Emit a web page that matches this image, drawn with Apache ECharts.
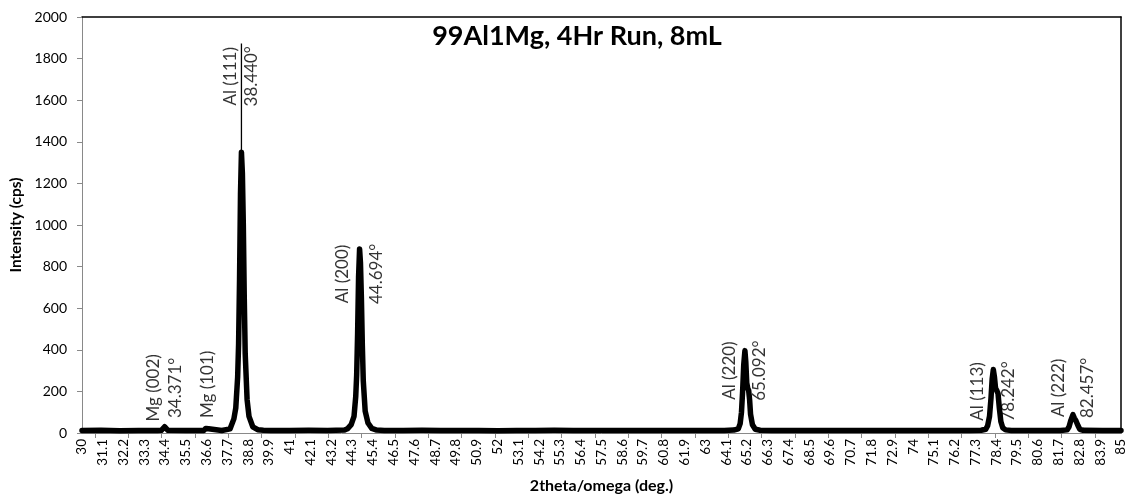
<!DOCTYPE html>
<html>
<head>
<meta charset="utf-8">
<script src="https://cdn.jsdelivr.net/npm/echarts@6/dist/echarts.min.js"></script>
<style>
  html, body { margin: 0; padding: 0; background: #fff; }
  #chart { width: 1127px; height: 496px; }
</style>
</head>
<body>
<div id="chart"></div>
<script>
// ---- data ----
const twoTheta = [
  30, 31, 32, 33, 34, 34.2, 34.3, 34.371, 34.45, 34.55, 35.5, 36.45, 36.55, 36.62, 36.7, 36.8, 37.4,
  37.84, 38.04, 38.14, 38.24, 38.29, 38.34, 38.39, 38.44, 38.49, 38.54, 38.59, 38.64, 38.74, 38.84, 39.04, 39.3, 39.6,
  40, 41, 42, 43, 43.9, 44.05,
  44.25, 44.4, 44.49, 44.54, 44.59, 44.64, 44.694, 44.74, 44.79, 44.84, 44.89, 44.99, 45.14, 45.34, 45.6,
  46, 47, 48, 49, 50, 51, 52, 53, 54, 55, 56, 57, 58, 59, 60, 61, 62, 63, 64, 64.5,
  64.74, 64.84, 64.91, 64.97, 65.03, 65.092, 65.14, 65.19, 65.24, 65.29, 65.34, 65.39, 65.49, 65.64, 65.9, 66.5,
  67, 68, 69, 70, 71, 72, 73, 74, 75, 76, 77, 77.6,
  77.84, 77.94, 78.04, 78.12, 78.18, 78.242, 78.30, 78.36, 78.42, 78.49, 78.56, 78.64, 78.74, 78.89, 79.2,
  80, 81, 81.8, 82.15, 82.25, 82.35, 82.457, 82.53, 82.62, 82.72, 82.82, 83.0, 84, 85
];
const intensity = [
  12, 13, 11, 12, 12, 13, 22, 30, 22, 13, 12, 12, 22, 27, 20, 12, 12,
  20, 68, 120, 270, 430, 740, 1150, 1350, 1250, 1000, 650, 380, 160, 80, 30, 16, 13,
  12, 12, 13, 12, 14, 20,
  40, 80, 175, 280, 480, 750, 885, 820, 650, 420, 250, 105, 48, 22, 14,
  12, 12, 13, 12, 12, 12, 11, 12, 12, 13, 12, 12, 12, 12, 12, 12, 12, 12, 12, 14,
  20, 45, 100, 200, 330, 396, 340, 240, 215, 205, 160, 90, 40, 18, 13, 12,
  12, 12, 12, 12, 12, 12, 12, 12, 12, 12, 12, 13,
  18, 35, 80, 170, 260, 305, 270, 215, 205, 190, 120, 55, 25, 15, 12,
  12, 12, 12, 15, 30, 62, 88, 72, 58, 36, 18, 13, 12, 12
];

const xTickLabels = [30, 31.1, 32.2, 33.3, 34.4, 35.5, 36.6, 37.7, 38.8, 39.9, 41, 42.1, 43.2, 44.3, 45.4,
  46.5, 47.6, 48.7, 49.8, 50.9, 52, 53.1, 54.2, 55.3, 56.4, 57.5, 58.6, 59.7, 60.8, 61.9, 63, 64.1,
  65.2, 66.3, 67.4, 68.5, 69.6, 70.7, 71.8, 72.9, 74, 75.1, 76.2, 77.3, 78.4, 79.5, 80.6, 81.7, 82.8, 83.9, 85];
const yTickLabels = [0, 200, 400, 600, 800, 1000, 1200, 1400, 1600, 1800, 2000];

const peakPos = [34.371, 36.62, 38.440, 44.694, 65.092, 78.242, 82.457];
const peakName = ['Mg (002)', 'Mg (101)', 'Al (111)', 'Al (200)', 'Al (220)', 'Al (113)', 'Al (222)'];
const peakAngleText = ['34.371°', '', '38.440°', '44.694°', '65.092°', '78.242°', '82.457°'];
const labelCentre = [217, 234, 1715, 765, 300, 200, 217];   // intensity at label centre
const al111Leader = [1350, 1872];                           // leader line from peak top to label top

// ---- layout / style (not data) ----
const labelGap = [22, 0, 21, 34, 30, 31, 29];
const FONT = 'Lato';

const lineData = twoTheta.map((x, i) => [x, intensity[i]]);
const tickPositions = [];
for (let k = 0; k <= 30; k++) tickPositions.push(30.69 + 1.7645 * k);

const labelData = peakPos.map((x, i) => ({
  value: [x, labelCentre[i]],
  name: peakName[i],
  label: { lineHeight: labelGap[i] || 20 }
}));

const chart = echarts.init(document.getElementById('chart'), null, { renderer: 'canvas' });
chart.setOption({
  animation: false,
  backgroundColor: '#fff',
  textStyle: { fontFamily: FONT },
  title: {
    text: '99Al1Mg, 4Hr Run, 8mL',
    left: 577, top: 23, textAlign: 'center', padding: 0,
    textStyle: { fontFamily: FONT, fontWeight: 'bold', fontSize: 27, color: '#000', lineHeight: 27 }
  },
  grid: { left: 82, right: 6, top: 17, bottom: 63, containLabel: false, outerBoundsMode: 'none' },
  xAxis: [{
    type: 'value', min: 30, max: 85, position: 'bottom',
    name: '2theta/omega (deg.)', nameLocation: 'middle', nameGap: 45,
    nameTextStyle: { fontFamily: FONT, fontWeight: 'bold', fontSize: 16, color: '#000' },
    axisLine: { show: true, lineStyle: { color: '#898989', width: 1 } },
    axisTick: { show: true, inside: false, length: 5, customValues: tickPositions, lineStyle: { color: '#898989' } },
    axisLabel: {
      show: true, customValues: xTickLabels, rotate: 90, margin: 6,
      fontFamily: FONT, fontSize: 13.5, color: '#000',
      formatter: v => String(v)
    },
    splitLine: { show: false }
  }, {
    type: 'value', min: 30, max: 85, position: 'top',
    axisLine: { show: true, onZero: false, lineStyle: { color: '#000', width: 1.5 } },
    axisTick: { show: false }, axisLabel: { show: false }, splitLine: { show: false }
  }],
  yAxis: [{
    type: 'value', min: yTickLabels[0], max: yTickLabels[yTickLabels.length - 1], interval: 200,
    name: 'Intensity (cps)', nameLocation: 'middle', nameGap: 56, nameRotate: 90,
    nameTextStyle: { fontFamily: FONT, fontWeight: 'bold', fontSize: 15.5, color: '#000' },
    axisLine: { show: true, lineStyle: { color: '#898989', width: 1 } },
    axisTick: { show: true, inside: false, length: 5, lineStyle: { color: '#898989' } },
    axisLabel: { show: true, margin: 15, fontFamily: FONT, fontSize: 14, color: '#000', formatter: v => String(v) },
    splitLine: { show: false }
  }, {
    type: 'value', min: 0, max: 2000, position: 'right',
    axisLine: { show: true, onZero: false, lineStyle: { color: '#000', width: 1.5 } },
    axisTick: { show: false }, axisLabel: { show: false }, splitLine: { show: false }
  }],
  series: [{
    type: 'line', name: 'XRD', data: lineData, xAxisIndex: 0, yAxisIndex: 0,
    showSymbol: false, symbol: 'none', smooth: false,
    lineStyle: { color: '#000', width: 5.5, join: 'round', cap: 'round' },
    z: 3
  }, {
    type: 'line', name: 'leader', xAxisIndex: 0, yAxisIndex: 0,
    data: [[peakPos[2], al111Leader[0]], [peakPos[2], al111Leader[1]]],
    showSymbol: false, symbol: 'none',
    lineStyle: { color: '#000', width: 1.3 }, z: 2
  }, {
    type: 'scatter', name: 'labels', xAxisIndex: 0, yAxisIndex: 0,
    data: labelData, symbolSize: 1, itemStyle: { color: 'rgba(0,0,0,0)' },
    label: {
      show: true, position: 'inside', rotate: 90,
      align: 'center', verticalAlign: 'middle',
      fontFamily: FONT, fontSize: 17, color: '#000',
      formatter: p => {
        const i = p.dataIndex;
        return peakAngleText[i] ? peakName[i] + '\n' + peakAngleText[i] : peakName[i];
      }
    },
    labelLayout: { hideOverlap: false },
    z: 5
  }]
});
</script>
</body>
</html>
